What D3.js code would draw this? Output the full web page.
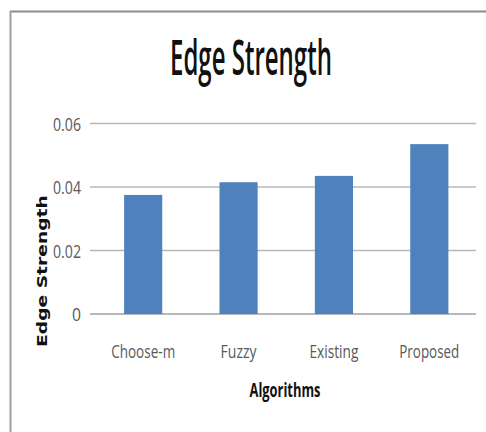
<!DOCTYPE html>
<html><head><meta charset="utf-8">
<script src="https://cdn.jsdelivr.net/npm/d3@7"></script>
<style>body{margin:0;background:#fff}svg{display:block}</style>
</head><body>
<script>
const categories = ["Choose-m", "Fuzzy", "Existing", "Proposed"];
const values = [0.0375, 0.0415, 0.0435, 0.0535];
const yTicks = [0, 0.02, 0.04, 0.06];
const yTickLabels = ["0", "0.02", "0.04", "0.06"];
const catWidths = [64, 36, 49, 60];

const W = 486, H = 432;
const svg = d3.select("body").append("svg").attr("width", W).attr("height", H);

// Place a text at (cx, cy) with a horizontal squeeze so its width equals w
function squeezed(g, str, cx, cy, w, anchor, attrs) {
  const grp = g.append("g");
  const t = grp.append("text").attr("x", 0).attr("y", 0).text(str);
  Object.entries(attrs).forEach(([k, v]) => t.attr(k, v));
  const nat = t.node().getComputedTextLength();
  const s = w / nat;
  let x0 = cx;
  if (anchor === "middle") x0 = cx - w / 2;
  else if (anchor === "end") x0 = cx - w;
  grp.attr("transform", `translate(${x0},${cy}) scale(${s},1)`);
  return grp;
}

// frame
svg.append("line").attr("x1", 10).attr("x2", W).attr("y1", 11.5).attr("y2", 11.5)
  .attr("stroke", "#8c8c8c").attr("stroke-width", 2);
svg.append("line").attr("x1", 10.5).attr("x2", 10.5).attr("y1", 11).attr("y2", H)
  .attr("stroke", "#a0a0a0").attr("stroke-width", 2);

const x = d3.scaleBand().domain(categories).range([95.5, 477]).paddingInner(0.6).paddingOuter(0.3);
const y = d3.scaleLinear().domain([0, 0.06]).range([314, 123.5]);

// gridlines
svg.append("g").selectAll("line").data(yTicks).join("line")
  .attr("x1", 90).attr("x2", 476)
  .attr("y1", d => y(d)).attr("y2", d => y(d))
  .attr("stroke", "#b8b8b8").attr("stroke-width", d => d === 0 ? 2 : 1.5);

const tickFont = {"font-family": "Open Sans, sans-serif", "font-size": 18, "fill": "#595959"};
const yLab = svg.append("g");
yTicks.forEach((d, i) => {
  squeezed(yLab, yTickLabels[i], 81, y(d) + 7, yTickLabels[i].length === 1 ? 9 : 28, "end", tickFont);
});

// bars
svg.append("g").selectAll("rect").data(values).join("rect")
  .attr("x", (d, i) => x(categories[i]))
  .attr("width", x.bandwidth())
  .attr("y", d => y(d))
  .attr("height", d => y(0) - y(d))
  .attr("fill", "#4f81bd");

// category labels
const catFont = {"font-family": "Open Sans, sans-serif", "font-size": 19, "fill": "#595959"};
const xLab = svg.append("g");
categories.forEach((c, i) => {
  squeezed(xLab, c, x(c) + x.bandwidth() / 2, 358, catWidths[i], "middle", catFont);
});

// title
squeezed(svg, "Edge Strength", 251, 75, 162, "middle",
  {"font-family": "Open Sans, sans-serif", "font-weight": 600, "font-size": 48, "fill": "#111"});

// x axis title
squeezed(svg, "Algorithms", 285, 397, 71, "middle",
  {"font-family": "Open Sans, sans-serif", "font-weight": "bold", "font-size": 19, "fill": "#111"});

// y axis title
const yt = svg.append("g").attr("transform", "translate(47,271) rotate(-90)");
squeezed(yt, "Edge Strength", 0, 0, 152, "middle",
  {"font-family": "DejaVu Sans, sans-serif", "font-weight": "bold", "font-size": 14, "fill": "#111"});
</script>
</body></html>
